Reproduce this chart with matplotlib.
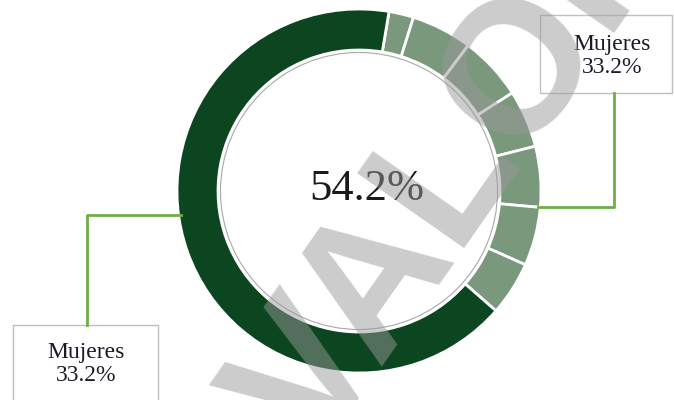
import matplotlib.pyplot as plt
from matplotlib.patches import Rectangle, Circle

# datos del anillo (porcentajes)
segmentos = ["s1", "s2", "s3", "s4", "s5", "s6", "s7", "principal"]
valores = [2.2, 5.4, 5.7, 5.1, 5.4, 5.2, 4.8, 66.2]
colores = ["#7a987c"] * 7 + ["#0c4620"]

texto_centro = "54.2%"
etiqueta = "Mujeres\n33.2%"
marca_agua = "VALOR"

fig = plt.figure(figsize=(6.74, 4.0), dpi=100)
ax = fig.add_axes([0, 0, 1, 1])
ax.set_xlim(0, 674)
ax.set_ylim(0, 400)
ax.set_aspect("equal")
ax.axis("off")

centro = (359, 209)
radio = 182

ax.pie(valores, colors=colores, center=centro, radius=radio,
       startangle=80.5, counterclock=False,
       wedgeprops=dict(width=41, edgecolor="white", linewidth=2))
ax.set_xlim(0, 674)
ax.set_ylim(0, 400)

# linea fina gris dentro del anillo
ax.add_patch(Circle(centro, 138.5, fill=False, edgecolor="#a8a8a8", linewidth=0.8))

ax.text(367, 211, texto_centro, ha="center", va="center",
        fontsize=32, family="Liberation Serif", color="#1a1a1a")

# cajas de etiqueta
ax.add_patch(Rectangle((540, 307), 132, 78, facecolor="white", edgecolor="#c0c0c0", linewidth=1))
ax.add_patch(Rectangle((13, -5), 145, 80, facecolor="white", edgecolor="#c0c0c0", linewidth=1))
ax.text(612, 344, etiqueta, ha="center", va="center", fontsize=17,
        family="Liberation Serif", color="#1a1a2a", linespacing=1.15)
ax.text(86, 36, etiqueta, ha="center", va="center", fontsize=17,
        family="Liberation Serif", color="#1a1a2a", linespacing=1.15)

# lineas guia
ax.plot([614, 614, 538], [307, 193, 193], color="#70ad47", linewidth=2)
ax.plot([87, 87, 181], [75, 185, 185], color="#70ad47", linewidth=2)

# marca de agua
ax.text(460, 233, marca_agua, ha="center", va="center", rotation=55,
        fontsize=136, family="Liberation Sans", weight="bold", color="#9a9a9a",
        alpha=0.5, zorder=10)

fig.savefig("out.png", dpi=100)
